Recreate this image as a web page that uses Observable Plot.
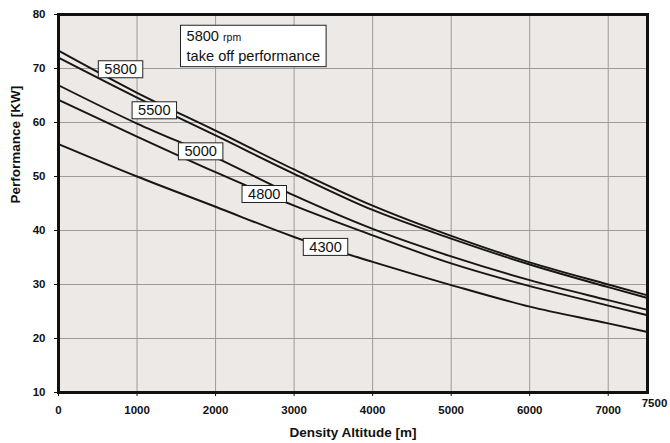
<!DOCTYPE html>
<html><head><meta charset="utf-8">
<script src="https://cdn.jsdelivr.net/npm/d3@7"></script>
<script src="https://cdn.jsdelivr.net/npm/@observablehq/plot@0.6"></script>
<style>
body{margin:0;background:#fff;font-family:"Liberation Sans",Arial,Helvetica,sans-serif}
</style>
</head><body><div id="chart"></div>
<script>
// ---- data ----
const altitude = [0, 1000, 2000, 3000, 4000, 5000, 6000, 7000, 7500];
const rpms = ["5800", "5500", "5000", "4800", "4300"];
const perf5800 = [73.3, 65.5, 58.5, 51.3, 44.6, 39.0, 34.1, 30.0, 28.0];
const perf5500 = [72.0, 64.6, 57.6, 50.5, 43.8, 38.5, 33.7, 29.5, 27.5];
const perf5000 = [66.9, 59.8, 53.5, 46.5, 40.3, 35.2, 30.8, 27.1, 25.3];
const perf4800 = [64.2, 57.4, 50.8, 44.6, 39.1, 33.9, 29.7, 26.1, 24.3];
const perf4300 = [56.0, 50.0, 44.4, 38.8, 34.2, 29.9, 25.9, 22.8, 21.2];
const xTicks = [0, 1000, 2000, 3000, 4000, 5000, 6000, 7000];
const xEndTick = [7500];
const yTicks = [10, 20, 30, 40, 50, 60, 70, 80];
const yGrid = [20, 30, 40, 50, 60, 70];
// label anchors (annotation positions along each curve)
const labelAltitude = [790, 1220, 1810, 2620, 3400];
const labelPerformance = [69.8, 62.2, 54.6, 46.7, 36.9];
const legendLines = ["5800 rpm", "take off performance"];

const perfBySeries = [perf5800, perf5500, perf5000, perf4800, perf4300];
const table = rpms.flatMap((rpm, i) =>
  altitude.map((a, j) => ({rpm, altitude: a, performance: perfBySeries[i][j]})));
const labels = rpms.map((rpm, i) => ({rpm, altitude: labelAltitude[i], performance: labelPerformance[i]}));

const font = '"Liberation Sans", Arial, Helvetica, sans-serif';

const chart = Plot.plot({
  width: 670,
  height: 443,
  marginLeft: 58,
  marginRight: 23,
  marginTop: 14,
  marginBottom: 51,
  style: {fontFamily: font, background: "#fff", color: "#111"},
  x: {domain: [0, 7500], label: null},
  y: {domain: [10, 80], label: null},
  marks: [
    Plot.frame({fill: "#ede9e6", stroke: "none"}),
    Plot.gridX(xTicks, {stroke: "#9c9c9c", strokeOpacity: 1, strokeWidth: 1}),
    Plot.gridY(yGrid, {stroke: "#9c9c9c", strokeOpacity: 1, strokeWidth: 1}),
    Plot.line(table, {x: "altitude", y: "performance", z: "rpm", curve: "monotone-x",
      stroke: "#161616", strokeWidth: 1.9}),
    Plot.text(labels, {x: "altitude", y: "performance", text: "rpm", fontSize: 14.6,
      fill: "#111"}),
    Plot.text([legendLines.join("\n")], {x: 1630, y: 77.6, text: d => d, textAnchor: "start",
      lineAnchor: "top", fontSize: 14.6, lineHeight: 1.33, fill: "#111"}),
    Plot.frame({stroke: "#111", strokeWidth: 3}),
    Plot.axisX(xTicks, {tickSize: 4, tickPadding: 9, fontSize: 11.5, fontWeight: "bold", label: null,
      stroke: "#111", tickFormat: d => String(d)}),
    Plot.text(xEndTick, {x: d => d, text: d => String(d), frameAnchor: "bottom", dy: 14, dx: 7,
      fontSize: 11.5, fontWeight: "bold", fill: "#111"}),
    Plot.axisY(yTicks, {tickSize: 4, tickPadding: 9, fontSize: 11.5, fontWeight: "bold", label: null,
      stroke: "#111", tickFormat: d => String(d)}),
    Plot.text(["Density Altitude [m]"], {frameAnchor: "bottom", dy: 44, fontSize: 13.5,
      fontWeight: "bold", fill: "#111"}),
    Plot.text(["Performance [KW]"], {frameAnchor: "left", dx: -43, rotate: -90, fontSize: 13.5,
      fontWeight: "bold", fill: "#111"})
  ]
});

document.getElementById("chart").appendChild(chart);

const NS = "http://www.w3.org/2000/svg";
function addBox(t, padX, padY) {
  const b = t.getBBox();
  const r = document.createElementNS(NS, "rect");
  r.setAttribute("x", b.x - padX);
  r.setAttribute("y", b.y - padY);
  r.setAttribute("width", b.width + 2 * padX);
  r.setAttribute("height", b.height + 2 * padY);
  r.setAttribute("fill", "#fff");
  r.setAttribute("stroke", "#222");
  r.setAttribute("stroke-width", 1);
  const tr = t.getAttribute("transform");
  if (tr) r.setAttribute("transform", tr);
  t.parentNode.insertBefore(r, t);
}
const allTexts = Array.from(chart.querySelectorAll("text"))
  .filter(t => t.closest('[font-size="14.6"]'));
allTexts.forEach(t => {
  if (rpms.includes(t.textContent)) addBox(t, 6, 0.5);
});
allTexts.forEach(t => {
  if (t.textContent.includes("take off")) {
    t.querySelectorAll("tspan").forEach(ts => {
      if (ts.textContent === "5800 rpm") {
        ts.textContent = "5800 ";
        const small = document.createElementNS(NS, "tspan");
        small.setAttribute("font-size", "10.5");
        small.textContent = "rpm";
        ts.after(small);
      }
    });
    addBox(t, 6, 3);
  }
});
</script>
</body></html>
